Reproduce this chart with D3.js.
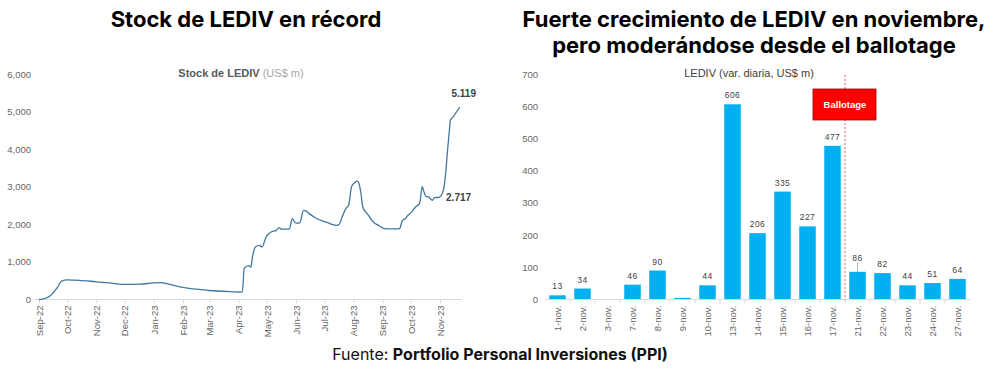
<!DOCTYPE html>
<html>
<head>
<meta charset="utf-8">
<script src="https://cdn.jsdelivr.net/npm/d3@7"></script>
<style>
  body { margin: 0; background: #fff; }
  svg { display: block; }
</style>
</head>
<body>
<div id="chart"></div>
<script>
// stock de LEDIV (US$ m)
const stockDates = [
  "2022-09-01","2022-09-05","2022-09-13","2022-09-20","2022-09-25","2022-10-01","2022-10-14",
  "2022-11-01","2022-11-15","2022-12-01","2022-12-17","2023-01-01","2023-01-08","2023-01-18",
  "2023-02-01","2023-03-01","2023-04-01","2023-04-05","2023-04-07","2023-04-12","2023-04-14",
  "2023-04-16","2023-04-19","2023-04-23","2023-04-26","2023-04-30","2023-05-03","2023-05-06",
  "2023-05-11","2023-05-14","2023-05-17","2023-05-25","2023-05-28","2023-06-01","2023-06-05",
  "2023-06-09","2023-06-12","2023-06-15","2023-06-22","2023-06-29","2023-07-06","2023-07-09",
  "2023-07-14","2023-07-17","2023-07-20","2023-07-24","2023-07-27","2023-07-30","2023-08-02",
  "2023-08-05","2023-08-07","2023-08-09","2023-08-11","2023-08-14","2023-08-17","2023-08-20",
  "2023-08-23","2023-08-28","2023-09-03","2023-09-08","2023-09-13","2023-09-19","2023-09-22",
  "2023-09-25","2023-09-28","2023-10-02","2023-10-06","2023-10-10","2023-10-11","2023-10-13",
  "2023-10-15","2023-10-17","2023-10-20","2023-10-24","2023-10-26","2023-10-31","2023-11-03",
  "2023-11-05","2023-11-07","2023-11-09","2023-11-11","2023-11-12","2023-11-15","2023-11-18",
  "2023-11-22"
];
const stockValues = [
  0, 10, 100, 300, 490, 520, 510,
  470, 440, 400, 410, 440, 450, 400,
  320, 240, 200, 195, 830, 900, 860,
  1170, 1400, 1440, 1400, 1650, 1750, 1800,
  1840, 1910, 1870, 1870, 2150, 2030, 2040,
  2370, 2350, 2285, 2170, 2090, 2030, 2000,
  1970, 2000, 2195, 2420, 2510, 3000, 3100,
  3150, 3085, 2820, 2460, 2330, 2240, 2125,
  2045, 1970, 1885, 1880, 1880, 1885, 2100,
  2150, 2240, 2330, 2460, 2550, 2640, 3000,
  2860, 2745, 2730, 2640, 2710, 2717, 2800,
  2950, 3350, 3970, 4500, 4770, 4860, 4970,
  5119
];
const stockTicks = [0, 1000, 2000, 3000, 4000, 5000, 6000];
const monthTicks = ["2022-09-01","2022-10-01","2022-11-01","2022-12-01","2023-01-01","2023-02-01",
  "2023-03-01","2023-04-01","2023-05-01","2023-06-01","2023-07-01","2023-08-01","2023-09-01",
  "2023-10-01","2023-11-01"];
const monthLabels = ["Sep-22","Oct-22","Nov-22","Dec-22","Jan-23","Feb-23","Mar-23","Apr-23",
  "May-23","Jun-23","Jul-23","Aug-23","Sep-23","Oct-23","Nov-23"];

// variación diaria de LEDIV en noviembre (US$ m)
const days = ["1-nov.","2-nov.","3-nov.","7-nov.","8-nov.","9-nov.","10-nov.","13-nov.","14-nov.",
  "15-nov.","16-nov.","17-nov.","21-nov.","22-nov.","23-nov.","24-nov.","27-nov."];
const dailyVar = [13, 34, 1, 46, 90, 5, 44, 606, 206, 335, 227, 477, 86, 82, 44, 51, 64];
const dailyLabels = ["13","34","","46","90","","44","606","206","335","227","477","86","82","44","51","64"];
const varTicks = [0, 100, 200, 300, 400, 500, 600, 700];

const parse = d3.timeParse("%Y-%m-%d");
const stock = stockDates.map((d, i) => ({ date: parse(d), value: stockValues[i] }));
const daily = days.map((d, i) => ({ day: d, value: dailyVar[i], label: dailyLabels[i] }));

const axisFont = "'Liberation Sans', Arial, sans-serif";
const titleFont = "Inter, 'Noto Sans', sans-serif";

const svg = d3.select("#chart")
  .append("svg")
  .attr("width", 1000)
  .attr("height", 373);

// Títulos
svg.append("text")
  .attr("x", 246).attr("y", 27)
  .attr("text-anchor", "middle")
  .style("font-family", titleFont)
  .style("font-size", "22px")
  .style("font-weight", "bold")
  .text("Stock de LEDIV en récord");

svg.append("text")
  .attr("x", 754).attr("y", 27)
  .attr("text-anchor", "middle")
  .style("font-family", titleFont)
  .style("font-size", "22px")
  .style("font-weight", "bold")
  .text("Fuerte crecimiento de LEDIV en noviembre,");

svg.append("text")
  .attr("x", 754).attr("y", 53)
  .attr("text-anchor", "middle")
  .style("font-family", titleFont)
  .style("font-size", "22px")
  .style("font-weight", "bold")
  .text("pero moderándose desde el ballotage");

const fuente = svg.append("text")
  .attr("x", 500).attr("y", 360)
  .attr("text-anchor", "middle")
  .style("font-family", titleFont)
  .style("font-size", "16px")
  .style("fill", "#111");
fuente.append("tspan").text("Fuente: ");
fuente.append("tspan").style("font-weight", "bold").text("Portfolio Personal Inversiones (PPI)");

// ---------- Gráfico izquierdo: stock ----------
const xTime = d3.scaleTime()
  .domain([parse("2022-09-01"), parse("2023-11-01")])
  .range([39, 440]);

const yStock = d3.scaleLinear()
  .domain([0, 6000])
  .range([299.5, 74]);

const left = svg.append("g");

left.append("text")
  .attr("x", 241).attr("y", 77)
  .attr("text-anchor", "middle")
  .style("font-family", axisFont)
  .style("font-size", "11px")
  .call(t => {
    t.append("tspan").style("font-weight", "bold").style("fill", "#595959").text("Stock de LEDIV ");
    t.append("tspan").style("fill", "#a6a6a6").text("(US$ m)");
  });

// Trục Y
const yAxisL = left.append("g")
  .attr("transform", "translate(31,0)")
  .call(d3.axisLeft(yStock).tickValues(stockTicks).tickFormat(d3.format(",")).tickSize(0).tickPadding(0));
yAxisL.select(".domain").remove();
yAxisL.selectAll("text")
  .style("font-family", axisFont)
  .style("font-size", "9.5px")
  .style("fill", "#666");

// Trục X
const xAxisL = left.append("g")
  .attr("transform", `translate(0,${yStock(0)})`)
  .call(d3.axisBottom(xTime)
    .tickValues(monthTicks.map(parse))
    .tickFormat((d, i) => monthLabels[i])
    .tickSize(4)
    .tickSizeOuter(0));
xAxisL.select(".domain").remove();
xAxisL.selectAll(".tick line").attr("stroke", "#d9d9d9");
xAxisL.selectAll("text")
  .attr("transform", "rotate(-90)")
  .attr("text-anchor", "end")
  .attr("x", -6)
  .attr("y", 0)
  .attr("dy", "0.35em")
  .style("font-family", axisFont)
  .style("font-size", "9.5px")
  .style("fill", "#666");
left.append("line")
  .attr("x1", 35).attr("x2", 462)
  .attr("y1", yStock(0)).attr("y2", yStock(0))
  .attr("stroke", "#d9d9d9");

const line = d3.line()
  .x(d => xTime(d.date))
  .y(d => yStock(d.value))
  .curve(d3.curveMonotoneX);

left.append("path")
  .datum(stock)
  .attr("fill", "none")
  .attr("stroke", "#41779f")
  .attr("stroke-width", 1.3)
  .attr("d", line);

const lastPt = stock[stock.length - 1];
const midPt = stock.find(d => d.value === 2717);
left.append("text")
  .attr("x", xTime(lastPt.date) + 4).attr("y", yStock(lastPt.value) - 10)
  .attr("text-anchor", "middle")
  .style("font-family", axisFont)
  .style("font-size", "10px")
  .style("font-weight", "bold")
  .style("fill", "#404040")
  .text("5.119");
left.append("text")
  .attr("x", xTime(midPt.date) + 7).attr("y", yStock(midPt.value) + 4)
  .style("font-family", axisFont)
  .style("font-size", "10px")
  .style("font-weight", "bold")
  .style("fill", "#404040")
  .text("2.717");

// ---------- Gráfico derecho: variación diaria ----------
const xBand = d3.scaleBand()
  .domain(days)
  .range([545, 970])
  .paddingInner(0.34)
  .paddingOuter(0.17);

const yVar = d3.scaleLinear()
  .domain([0, 700])
  .range([299.5, 74]);

const right = svg.append("g");

right.append("text")
  .attr("x", 749).attr("y", 77)
  .attr("text-anchor", "middle")
  .style("font-family", axisFont)
  .style("font-size", "11px")
  .style("fill", "#404040")
  .text("LEDIV (var. diaria, US$ m)");

const yAxisR = right.append("g")
  .attr("transform", "translate(538,0)")
  .call(d3.axisLeft(yVar).tickValues(varTicks).tickSize(0).tickPadding(0));
yAxisR.select(".domain").remove();
yAxisR.selectAll("text")
  .style("font-family", axisFont)
  .style("font-size", "9.5px")
  .style("fill", "#666");

// Vẽ cột
right.selectAll(".bar")
  .data(daily)
  .enter().append("rect")
  .attr("class", "bar")
  .attr("x", d => xBand(d.day))
  .attr("y", d => yVar(d.value))
  .attr("width", xBand.bandwidth())
  .attr("height", d => yVar(0) - yVar(d.value))
  .attr("fill", "#00b0f0");

// etiquetas de valores
right.selectAll(".lbl")
  .data(daily.filter(d => d.label !== ""))
  .enter().append("text")
  .attr("class", "lbl")
  .attr("x", d => xBand(d.day) + xBand.bandwidth() / 2)
  .attr("y", d => yVar(d.value) - (d.day === "21-nov." ? 11 : 6))
  .attr("text-anchor", "middle")
  .style("font-family", axisFont)
  .style("font-size", "8.5px")
  .style("fill", "#404040")
  .style("letter-spacing", "0.5px")
  .text(d => d.label);

// línea guía del 21-nov.
const d21 = daily.find(d => d.day === "21-nov.");
right.append("line")
  .attr("x1", xBand(d21.day) + xBand.bandwidth() / 2)
  .attr("x2", xBand(d21.day) + xBand.bandwidth() / 2)
  .attr("y1", yVar(d21.value) - 9)
  .attr("y2", yVar(d21.value))
  .attr("stroke", "#a6a6a6")
  .attr("stroke-width", 0.8);

// Trục X
const xAxisR = right.append("g")
  .attr("transform", `translate(0,${yVar(0)})`)
  .call(d3.axisBottom(xBand).tickSize(0).tickPadding(0));
xAxisR.select(".domain").remove();
xAxisR.selectAll("text")
  .attr("transform", "rotate(-90)")
  .attr("text-anchor", "end")
  .attr("x", -6)
  .attr("y", 0)
  .attr("dy", "0.35em")
  .style("font-family", axisFont)
  .style("font-size", "9.5px")
  .style("fill", "#666");
right.append("line")
  .attr("x1", 545).attr("x2", 970)
  .attr("y1", yVar(0)).attr("y2", yVar(0))
  .attr("stroke", "#d9d9d9");
right.selectAll(".sep")
  .data(days.slice(1))
  .enter().append("line")
  .attr("class", "sep")
  .attr("x1", d => xBand(d) - xBand.step() * xBand.paddingInner() / 2)
  .attr("x2", d => xBand(d) - xBand.step() * xBand.paddingInner() / 2)
  .attr("y1", yVar(0)).attr("y2", yVar(0) + 4)
  .attr("stroke", "#d9d9d9");

// Ballotage
const ballX = (xBand("17-nov.") + xBand("21-nov.") + xBand.bandwidth()) / 2;
right.append("line")
  .attr("x1", ballX).attr("x2", ballX)
  .attr("y1", 75).attr("y2", yVar(0))
  .attr("stroke", "#e03030")
  .attr("stroke-width", 0.8)
  .attr("stroke-dasharray", "2,2");
right.append("rect")
  .attr("x", ballX - 32).attr("y", 89)
  .attr("width", 63).attr("height", 31)
  .attr("fill", "#ff0000")
  .attr("stroke", "#a00000")
  .attr("stroke-width", 0.8);
right.append("text")
  .attr("x", ballX).attr("y", 108)
  .attr("text-anchor", "middle")
  .style("font-family", axisFont)
  .style("font-size", "9.5px")
  .style("font-weight", "bold")
  .style("fill", "#fff")
  .text("Ballotage");
</script>
</body>
</html>
